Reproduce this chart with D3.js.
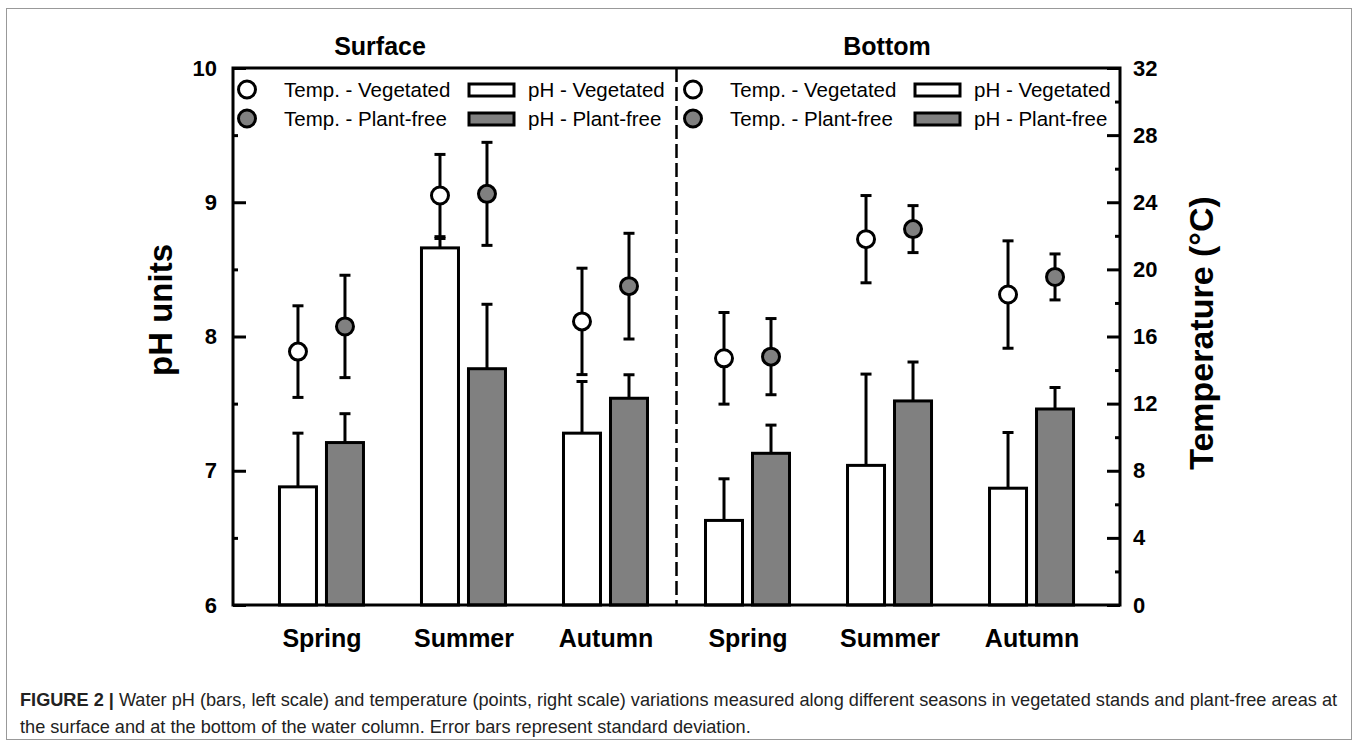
<!DOCTYPE html>
<html>
<head>
<meta charset="utf-8">
<script src="https://cdn.jsdelivr.net/npm/d3@7"></script>
<style>
  html, body { margin: 0; padding: 0; background: #fff; }
  svg { display: block; font-family: "Liberation Sans", Arial, sans-serif; }
</style>
</head>
<body>
<svg id="chart" width="1358" height="746"></svg>
<script>
// ---------------- DATA ----------------
const depths = ["Surface", "Bottom"];
const seasons = ["Spring", "Summer", "Autumn"];
const categories = ["Surface-Spring", "Surface-Summer", "Surface-Autumn",
                    "Bottom-Spring", "Bottom-Summer", "Bottom-Autumn"];
const categoryLabels = ["Spring", "Summer", "Autumn", "Spring", "Summer", "Autumn"];

const phVegetated     = [6.88, 8.66, 7.28, 6.63, 7.04, 6.87];
const phVegetatedSD   = [0.40, 0.07, 0.385, 0.31, 0.68, 0.415];
const phPlantFree     = [7.21, 7.76, 7.54, 7.13, 7.52, 7.46];
const phPlantFreeSD   = [0.215, 0.48, 0.175, 0.21, 0.29, 0.16];

const tempVegetated   = [15.1, 24.4, 16.9, 14.7, 21.8, 18.5];
const tempVegetatedSD = [2.73, 2.45, 3.17, 2.73, 2.6, 3.2];
const tempPlantFree   = [16.6, 24.5, 19.0, 14.8, 22.4, 19.55];
const tempPlantFreeSD = [3.05, 3.07, 3.15, 2.27, 1.4, 1.37];

const phTicks = [6, 7, 8, 9, 10];
const phMinorTicks = [6.5, 7.5, 8.5, 9.5];
const tempTicks = [0, 4, 8, 12, 16, 20, 24, 28, 32];
const tempMinorTicks = [2, 6, 10, 14, 18, 22, 26, 30];

const legendTemp = ["Temp. - Vegetated", "Temp. - Plant-free"];
const legendPH = ["pH - Vegetated", "pH - Plant-free"];

const captionBold = "FIGURE 2 | ";
const captionLine1 = "Water pH (bars, left scale) and temperature (points, right scale) variations measured along different seasons in vegetated stands and plant-free areas at";
const captionLine2 = "the surface and at the bottom of the water column. Error bars represent standard deviation.";

// ---------------- LAYOUT ----------------
const svg = d3.select("#chart");
const L = 233, R = 1120, T = 68, B = 605;
const GREY = "#808080";
const barW = 37, barOff = 23.5;

const x = d3.scalePoint().domain(categories).range([L, R]).padding(0.623);
const yPH = d3.scaleLinear().domain([6, 10]).range([B, T]);
const yT = d3.scaleLinear().domain([0, 32]).range([B, T]);

// outer figure border
svg.append("rect").attr("x", 6.5).attr("y", 8.5).attr("width", 1345).attr("height", 731)
  .attr("fill", "none").attr("stroke", "#999").attr("stroke-width", 1);

// bars
const barsG = svg.append("g");
function drawBars(vals, sds, off, fill) {
  categories.forEach((c, i) => {
    const cx = x(c) + off;
    const yTop = yPH(vals[i] + sds[i]);
    barsG.append("line").attr("x1", cx).attr("x2", cx)
      .attr("y1", yPH(vals[i])).attr("y2", yTop)
      .attr("stroke", "#000").attr("stroke-width", 3);
    barsG.append("line").attr("x1", cx - 5.5).attr("x2", cx + 5.5)
      .attr("y1", yTop).attr("y2", yTop)
      .attr("stroke", "#000").attr("stroke-width", 3);
    barsG.append("rect").attr("x", cx - barW / 2).attr("y", yPH(vals[i]))
      .attr("width", barW).attr("height", yPH(6) - yPH(vals[i]))
      .attr("fill", fill).attr("stroke", "#000").attr("stroke-width", 3);
  });
}
drawBars(phVegetated, phVegetatedSD, -barOff, "#fff");
drawBars(phPlantFree, phPlantFreeSD, barOff, GREY);

// temperature points
const ptsG = svg.append("g");
function drawPoints(vals, sds, off, fill) {
  categories.forEach((c, i) => {
    const cx = x(c) + off;
    const y1 = yT(vals[i] - sds[i]), y2 = yT(vals[i] + sds[i]);
    ptsG.append("line").attr("x1", cx).attr("x2", cx).attr("y1", y1).attr("y2", y2)
      .attr("stroke", "#000").attr("stroke-width", 3);
    [y1, y2].forEach(yy => ptsG.append("line").attr("x1", cx - 5.5).attr("x2", cx + 5.5)
      .attr("y1", yy).attr("y2", yy).attr("stroke", "#000").attr("stroke-width", 3));
    ptsG.append("circle").attr("cx", cx).attr("cy", yT(vals[i])).attr("r", 8.5)
      .attr("fill", fill).attr("stroke", "#000").attr("stroke-width", 3);
  });
}
drawPoints(tempVegetated, tempVegetatedSD, -barOff, "#fff");
drawPoints(tempPlantFree, tempPlantFreeSD, barOff, GREY);

// dashed divider
const divX = (x(categories[2]) + x(categories[3])) / 2;
svg.append("line").attr("x1", divX).attr("x2", divX).attr("y1", T).attr("y2", B)
  .attr("stroke", "#000").attr("stroke-width", 2.5).attr("stroke-dasharray", "14,5");

// axes
const gL = svg.append("g").attr("transform", `translate(${L},0)`)
  .call(d3.axisLeft(yPH).tickValues(phTicks).tickFormat(d3.format("d"))
    .tickSizeInner(-13).tickSizeOuter(0).tickPadding(16));
const gLm = svg.append("g").attr("transform", `translate(${L},0)`)
  .call(d3.axisLeft(yPH).tickValues(phMinorTicks).tickFormat("").tickSizeInner(-5).tickSizeOuter(0));
const gR = svg.append("g").attr("transform", `translate(${R},0)`)
  .call(d3.axisRight(yT).tickValues(tempTicks).tickFormat(d3.format("d"))
    .tickSizeInner(-13).tickSizeOuter(0).tickPadding(13));
const gRm = svg.append("g").attr("transform", `translate(${R},0)`)
  .call(d3.axisRight(yT).tickValues(tempMinorTicks).tickFormat("").tickSizeInner(-5).tickSizeOuter(0));
const gB = svg.append("g").attr("transform", `translate(0,${B})`)
  .call(d3.axisBottom(x).tickFormat((d, i) => categoryLabels[i]).tickSize(0).tickPadding(24));

[gL, gLm, gR, gRm, gB].forEach(g => {
  g.select(".domain").remove();
  g.selectAll(".tick line").attr("stroke", "#000").attr("stroke-width", 3);
  g.selectAll("text").attr("fill", "#000").attr("font-weight", "bold")
    .attr("font-family", "'Liberation Sans', Arial, sans-serif");
});
gL.selectAll("text").attr("font-size", 22);
gR.selectAll("text").attr("font-size", 22);
gB.selectAll("text").attr("font-size", 25);

// frame
svg.append("rect").attr("x", L).attr("y", T).attr("width", R - L).attr("height", B - T)
  .attr("fill", "none").attr("stroke", "#000").attr("stroke-width", 3);

// panel titles
const titleX = [380, 887];
depths.forEach((d, i) => {
  svg.append("text").attr("x", titleX[i]).attr("y", 55).attr("text-anchor", "middle")
    .attr("font-size", 25).attr("font-weight", "bold").text(d);
});

// axis titles
svg.append("text").attr("transform", "translate(172,310) rotate(-90)")
  .attr("text-anchor", "middle").attr("font-size", 33).attr("font-weight", "bold").text("pH units");
svg.append("text").attr("transform", "translate(1213,333) rotate(-90)")
  .attr("text-anchor", "middle").attr("font-size", 34).attr("font-weight", "bold").text("Temperature (°C)");

// legends
const legendX = [247, 693];
const rowY = [89.5, 118.5];
const pointFill = ["#fff", GREY];
legendX.forEach(lx => {
  rowY.forEach((ry, j) => {
    svg.append("circle").attr("cx", lx).attr("cy", ry).attr("r", 8.5)
      .attr("fill", pointFill[j]).attr("stroke", "#000").attr("stroke-width", 3);
    svg.append("text").attr("x", lx + 37).attr("y", ry + 7).attr("font-size", 20.5).text(legendTemp[j]);
    svg.append("rect").attr("x", lx + 222).attr("y", ry - 5.5).attr("width", 45).attr("height", 12)
      .attr("fill", pointFill[j]).attr("stroke", "#000").attr("stroke-width", 3);
    svg.append("text").attr("x", lx + 281).attr("y", ry + 7).attr("font-size", 20.5).text(legendPH[j]);
  });
});

// caption (font size fitted so the first line spans the figure width)
const cap1 = svg.append("text").attr("x", 20).attr("y", 706).attr("font-size", 16).attr("fill", "#222");
cap1.append("tspan").attr("font-weight", "bold").text(captionBold);
cap1.append("tspan").text(captionLine1);
const cap2 = svg.append("text").attr("x", 20).attr("y", 733).attr("font-size", 16).attr("fill", "#222").text(captionLine2);
const w1 = cap1.node().getComputedTextLength();
const capSize = 16 * 1318 / w1;
cap1.attr("font-size", capSize);
cap2.attr("font-size", capSize);
</script>
</body>
</html>
